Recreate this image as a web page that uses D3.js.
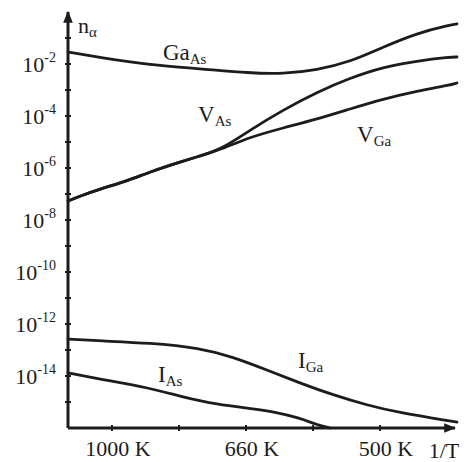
<!DOCTYPE html>
<html lang="en">
<head>
<meta charset="UTF-8">
<title>Native defects in GaAs</title>
<script src="https://d3js.org/d3.v7.min.js"></script>
<style>
  body { margin: 0; background: #fff; }
  .curve { fill: none; stroke: #1c1c1c; stroke-width: 2.8px; stroke-linecap: round; }
  .axis-line { stroke: #1c1c1c; stroke-width: 3px; }
  .tick-mark { stroke: #1c1c1c; stroke-width: 2px; }
  text { font-family: "Liberation Serif", "DejaVu Serif", serif; fill: #1c1c1c; }
</style>
</head>
<body>
<div id="chart"></div>
<script>
// x = 1000/T (1/K), y = log10 of concentration n
const gaAsT = [0.836, 0.955, 1.142, 1.328, 1.515, 1.638, 1.765, 1.888, 2.011, 2.138, 2.261, 2.287];
const gaAsN = [-1.54, -1.75, -2.04, -2.18, -2.35, -2.38, -2.23, -1.92, -1.35, -0.81, -0.50, -0.46];

const vAsT = [0.836, 0.881, 0.955, 1.056, 1.142, 1.254, 1.328, 1.410, 1.515, 1.638, 1.765, 1.888, 2.011, 2.138, 2.261, 2.287];
const vAsN = [-7.27, -7.08, -6.81, -6.50, -6.15, -5.77, -5.54, -5.27, -4.54, -3.77, -3.08, -2.54, -2.12, -1.88, -1.73, -1.73];

const vGaT = [0.836, 0.881, 0.955, 1.056, 1.142, 1.254, 1.328, 1.410, 1.515, 1.638, 1.765, 1.888, 2.011, 2.138, 2.261, 2.287];
const vGaN = [-7.27, -7.08, -6.81, -6.50, -6.15, -5.77, -5.54, -5.27, -4.81, -4.46, -4.12, -3.73, -3.35, -3.04, -2.81, -2.73];

const iGaT = [0.836, 0.955, 1.142, 1.328, 1.451, 1.578, 1.701, 1.825, 1.951, 2.075, 2.261, 2.287];
const iGaN = [-12.58, -12.65, -12.73, -12.92, -13.27, -13.77, -14.27, -14.73, -15.12, -15.42, -15.73, -15.77];

const iAsT = [0.836, 0.955, 1.142, 1.265, 1.392, 1.515, 1.608, 1.701, 1.765, 1.813];
const iAsN = [-13.88, -14.12, -14.46, -14.81, -15.10, -15.25, -15.38, -15.62, -15.88, -16.0];

const xTicks = [1, 1.25, 1.5, 1.75, 2];
const xTickLabels = {1: "1000 K", 1.5: "660 K", 2: "500 K"};
const yTickExp = d3.range(-1, -16, -1);
const yLabelExp = [-2, -4, -6, -8, -10, -12, -14];

// curve labels: [main, subscript, 1000/T, log10 n]
const curveLabels = [
  ["Ga", "As", 1.190, -1.85],
  ["V", "As", 1.321, -4.23],
  ["V", "Ga", 1.914, -5.0],
  ["I", "Ga", 1.694, -13.69],
  ["I", "As", 1.172, -14.23]
];

const width = 468, height = 462;

const x = d3.scaleLinear().domain([0.836, 2.287]).range([68, 457]);
const y = d3.scaleLog().domain([1e-16, 1]).range([428, 12]);

const svg = d3.select("#chart").append("svg")
  .attr("width", width).attr("height", height);

svg.append("defs").append("marker")
  .attr("id", "arrow")
  .attr("viewBox", "0 0 10 10")
  .attr("refX", 9).attr("refY", 5)
  .attr("markerWidth", 4).attr("markerHeight", 4)
  .attr("markerUnits", "strokeWidth")
  .attr("orient", "auto")
  .append("path").attr("d", "M0,1 L10,5 L0,9 Z").attr("fill", "#1c1c1c");

// axes
const x0 = x(0.836), yBase = y(1e-16);
svg.append("line").attr("class", "axis-line")
  .attr("x1", x0).attr("y1", yBase).attr("x2", x0).attr("y2", 12)
  .attr("marker-end", "url(#arrow)");
svg.append("line").attr("class", "axis-line")
  .attr("x1", x0).attr("y1", yBase).attr("x2", 455).attr("y2", yBase)
  .attr("marker-end", "url(#arrow)");

svg.selectAll(".ytick").data(yTickExp).join("line")
  .attr("class", "tick-mark")
  .attr("x1", x0 - 3).attr("x2", x0 + 3)
  .attr("y1", d => y(Math.pow(10, d))).attr("y2", d => y(Math.pow(10, d)));

svg.selectAll(".xtick").data(xTicks).join("line")
  .attr("class", "tick-mark")
  .attr("x1", d => x(d)).attr("x2", d => x(d))
  .attr("y1", yBase - 3).attr("y2", yBase + 3);

const yLab = svg.selectAll(".ylab").data(yLabelExp).join("text")
  .attr("class", "ylab")
  .attr("x", 56)
  .attr("y", d => y(Math.pow(10, d)) + 8)
  .attr("text-anchor", "end")
  .attr("font-size", 22);
yLab.append("tspan").text("10");
yLab.append("tspan").attr("dy", -10).attr("font-size", 14).text(d => "-" + (-d));

svg.selectAll(".xlab").data(xTicks.filter(d => xTickLabels[d])).join("text")
  .attr("x", d => x(d) + 6)
  .attr("y", 456)
  .attr("text-anchor", "middle")
  .attr("font-size", 22)
  .text(d => xTickLabels[d]);

svg.append("text").attr("x", 444).attr("y", 458)
  .attr("text-anchor", "middle").attr("font-size", 22).text("1/T");

const nLab = svg.append("text").attr("x", x0 + 10).attr("y", 33).attr("font-size", 22);
nLab.append("tspan").text("n");
nLab.append("tspan").attr("dy", 4).attr("font-size", 15).text("α");

// curves
const line = d3.line()
  .x(d => x(d[0]))
  .y(d => y(Math.pow(10, d[1])))
  .curve(d3.curveBasis);

const series = [[gaAsT, gaAsN], [vAsT, vAsN], [vGaT, vGaN], [iGaT, iGaN], [iAsT, iAsN]];
series.forEach(([t, n]) => {
  svg.append("path").attr("class", "curve")
    .datum(t.map((v, i) => [v, n[i]]))
    .attr("d", line);
});

curveLabels.forEach(([main, sub, t, n]) => {
  const lab = svg.append("text")
    .attr("x", x(t)).attr("y", y(Math.pow(10, n)))
    .attr("font-size", 23);
  lab.append("tspan").text(main);
  lab.append("tspan").attr("dy", 4).attr("font-size", 15).text(sub);
});
</script>
</body>
</html>
